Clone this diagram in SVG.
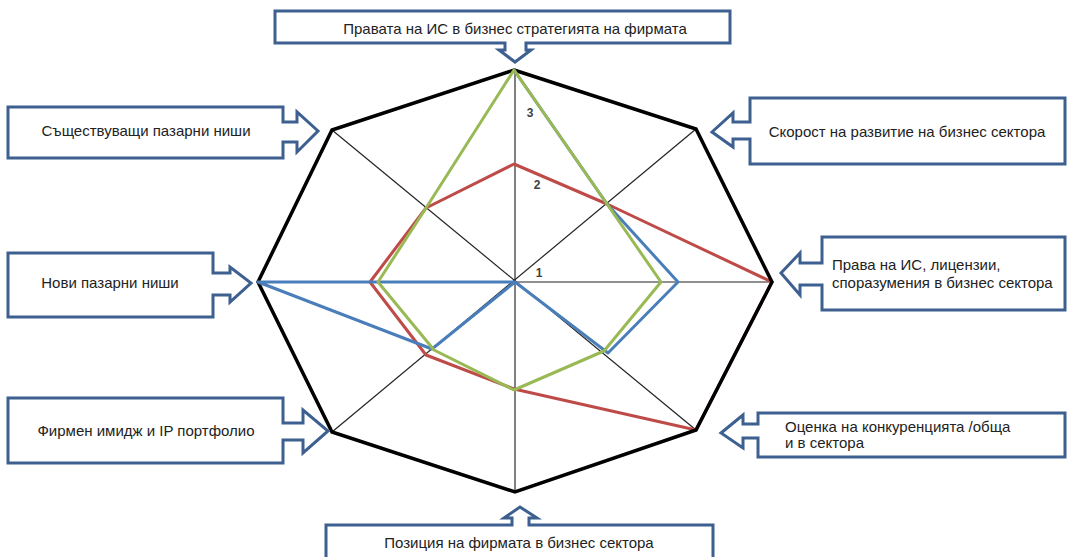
<svg xmlns="http://www.w3.org/2000/svg" width="1068" height="557" viewBox="0 0 1068 557">
<style>
.box{fill:#fff;stroke:#3d6090;stroke-width:3;stroke-linejoin:miter}
.lbl{font-family:"Liberation Sans",Arial,sans-serif;font-size:15px;fill:#222}
.ax{stroke:#222;stroke-width:1.2;fill:none}
.ser{fill:none;stroke-width:3;stroke-linejoin:round}
.tick{font-family:"Liberation Sans",Arial,sans-serif;font-size:12px;font-weight:bold;fill:#404040}
</style>
<rect width="1068" height="557" fill="#fff"/>
<g id="chart">
  <g id="axes">
    <line class="ax" x1="515" y1="282" x2="515" y2="70" style="stroke:#808080;stroke-width:2"/>
    <line class="ax" x1="515" y1="282" x2="515" y2="492" style="stroke:#808080;stroke-width:2"/>
    <line class="ax" x1="258" y1="282" x2="772" y2="282"/>
    <line class="ax" x1="332" y1="130" x2="696" y2="430"/>
    <line class="ax" x1="332" y1="432" x2="696" y2="129"/>
  </g>
  <polygon id="series-red" class="ser" stroke="#be4b48" points="514,164 607,204 772,282 696,430 514,389 426,355 370,282 426,208"/>
  <polygon id="frame" fill="none" stroke="#000" stroke-width="3.5" stroke-linejoin="miter" points="514,70 696,129 772,282 696,430 515,492 332,432 258,282 332,130"/>
  <polyline id="series-blue" class="ser" stroke="#4a7ebb" points="514,70 607,204 678,282 608,353 515,282 432,349 258,282 515,282"/>
  <polygon id="series-green" class="ser" stroke="#98b954" points="514,70 607,204 661,282 604,351 514,390 434,350 378,282 426,208"/>
  <text class="tick" x="530" y="117" text-anchor="middle">3</text>
  <text class="tick" x="537" y="189" text-anchor="middle">2</text>
  <text class="tick" x="539" y="277" text-anchor="middle">1</text>
</g>
<g id="node-top">
  <path class="box" d="M275,11 H730 V43 H526 V50 H531 L515,62 L499,50 H505 V43 H275 Z"/>
  <text class="lbl" x="515" y="34" text-anchor="middle">Правата на ИС в бизнес стратегията на фирмата</text>
</g>
<g id="node-left1">
  <path class="box" d="M8,107 H283 V122 H297 V112 L318,131 L297,152 V142 H283 V158 H8 Z"/>
  <text class="lbl" x="146" y="136" text-anchor="middle">Съществуващи пазарни ниши</text>
</g>
<g id="node-left2">
  <path class="box" d="M8,253 H213 V273 H230 V267 L251,283 L230,302 V295 H213 V317 H8 Z"/>
  <text class="lbl" x="110" y="288" text-anchor="middle">Нови пазарни ниши</text>
</g>
<g id="node-left3">
  <path class="box" d="M8,398 H283 V423 H303 V410 L328,431 L303,453 V440 H283 V463 H8 Z"/>
  <text class="lbl" x="146" y="436" text-anchor="middle">Фирмен имидж и IP портфолио</text>
</g>
<g id="node-right1">
  <path class="box" d="M750,98 H1065 V164 H750 V139 H733 V147 L712,132 L733,113 V122 H750 Z"/>
  <text class="lbl" x="907" y="137" text-anchor="middle">Скорост на развитие на бизнес сектора</text>
</g>
<g id="node-right2">
  <path class="box" d="M822,237 H1065 V310 H822 V285 H800 V295 L781,273 L800,253 V263 H822 Z"/>
  <text class="lbl" x="832" y="270">Права на ИС, лицензии,</text>
  <text class="lbl" x="832" y="288">споразумения в бизнес сектора</text>
</g>
<g id="node-right3">
  <path class="box" d="M758,413 H1065 V457 H758 V438 H743 V448 L721,433 L743,415 V424 H758 Z"/>
  <text class="lbl" x="785" y="432">Оценка на конкуренцията /обща</text>
  <text class="lbl" x="785" y="448">и в сектора</text>
</g>
<g id="node-bottom">
  <path class="box" d="M326,525 H512 V518 H504 L520,507 L537,518 H529 V525 H713 V562 H326 Z"/>
  <text class="lbl" x="519" y="548" text-anchor="middle">Позиция на фирмата в бизнес сектора</text>
</g>
</svg>
